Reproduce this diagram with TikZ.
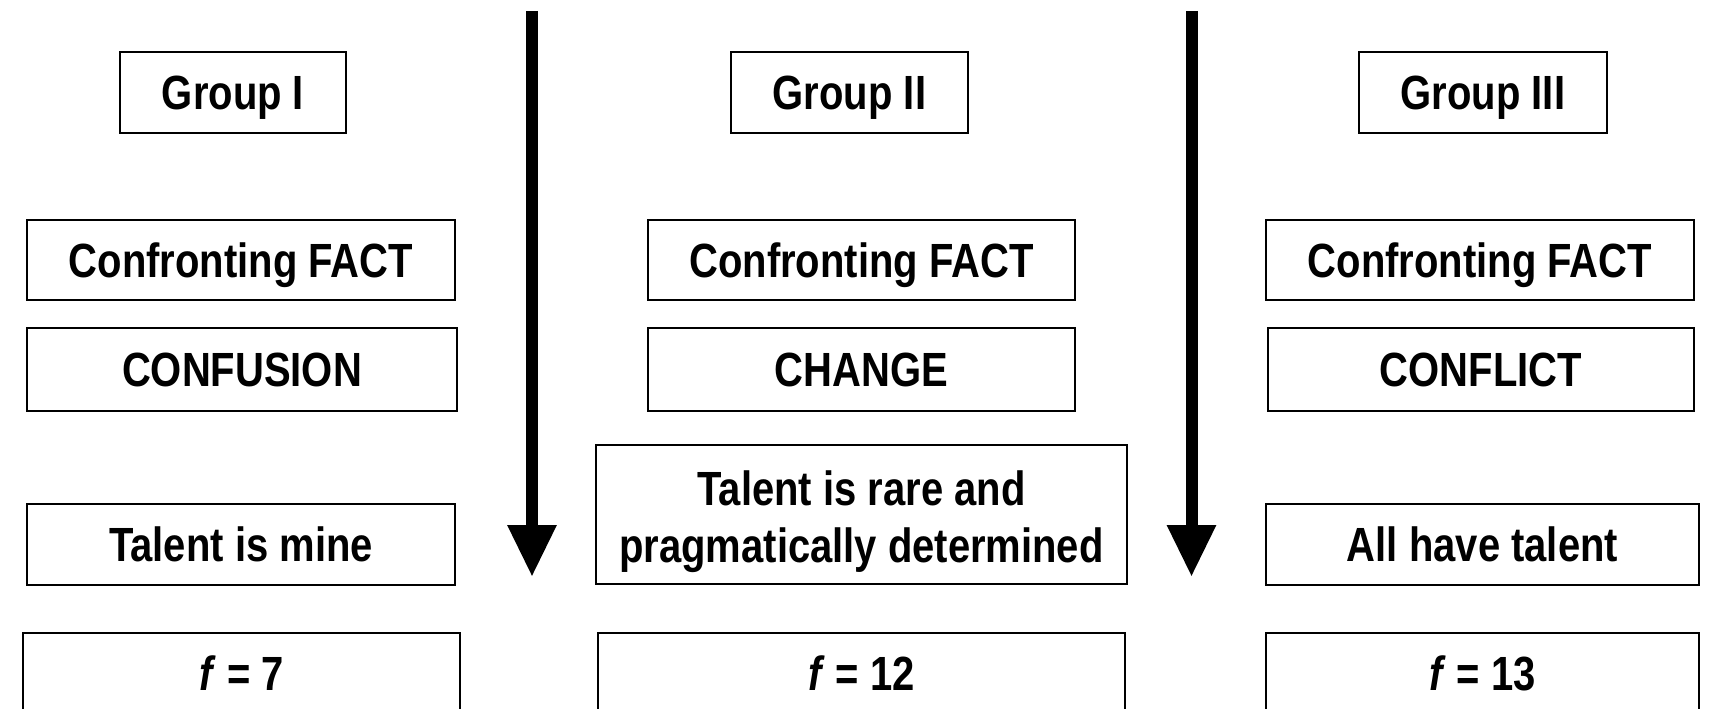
\documentclass[tikz,border=0pt]{standalone}
\usepackage{fontspec}
\setmainfont{Liberation Sans}[FakeStretch=0.833]
\usepackage{tikz}
\usetikzlibrary{arrows.meta}

\newcommand{\boxfont}{\fontsize{48}{57}\selectfont\bfseries}

\begin{document}
\begin{tikzpicture}[x=1pt,y=-1pt, inner sep=0pt,
  box/.style={draw, line width=2pt, align=center, font=\boxfont, text height=34pt, text depth=0pt},
  down/.style={line width=12pt, -{Triangle[length=52pt,width=46pt]}}]
\useasboundingbox (0,0) rectangle (1711,709);
\clip (0,0) rectangle (1711,709);
% group headers
\node (g1) at (233,92.5) [box, minimum width=226pt, minimum height=81pt] {Group I};
\node (g2) at (849.5,92.5) [box, minimum width=237pt, minimum height=81pt] {Group II};
\node (g3) at (1483,92.5) [box, minimum width=248pt, minimum height=81pt] {Group III};
% facts
\node (fact1) at (241,260) [box, minimum width=428pt, minimum height=80pt] {Confronting FACT};
\node (fact2) at (861.5,260) [box, minimum width=427pt, minimum height=80pt] {Confronting FACT};
\node (fact3) at (1480,260) [box, minimum width=428pt, minimum height=80pt] {Confronting FACT};
% reactions
\node (re1) at (242,369.5) [box, minimum width=430pt, minimum height=83pt] {CONFUSION};
\node (re2) at (861.5,369.5) [box, minimum width=427pt, minimum height=83pt] {CHANGE};
\node (re3) at (1481,369.5) [box, minimum width=426pt, minimum height=83pt] {CONFLICT};
% beliefs
\node (tal1) at (241,544.5) [box, minimum width=428pt, minimum height=81pt] {Talent is mine};
\node (tal2) at (861.5,514.5) [box, text height=95pt, minimum width=531pt, minimum height=139pt] {Talent is rare and\\pragmatically determined};
\node (tal3) at (1482.5,544.5) [box, minimum width=433pt, minimum height=81pt] {All have talent};
% frequencies
\node (f1) at (241.5,673.5) [box, minimum width=437pt, minimum height=81pt] {\textit{f} = 7};
\node (f2) at (861.5,673.5) [box, minimum width=527pt, minimum height=81pt] {\textit{f} = 12};
\node (f3) at (1482.5,673.5) [box, minimum width=433pt, minimum height=81pt] {\textit{f} = 13};
% arrows
\coordinate (a1t) at (532,11);
\coordinate (a1b) at (532,577);
\coordinate (a2t) at (1191.5,11);
\coordinate (a2b) at (1191.5,577);
\draw[down] (a1t) -- (a1b);
\draw[down] (a2t) -- (a2b);
\end{tikzpicture}
\end{document}
